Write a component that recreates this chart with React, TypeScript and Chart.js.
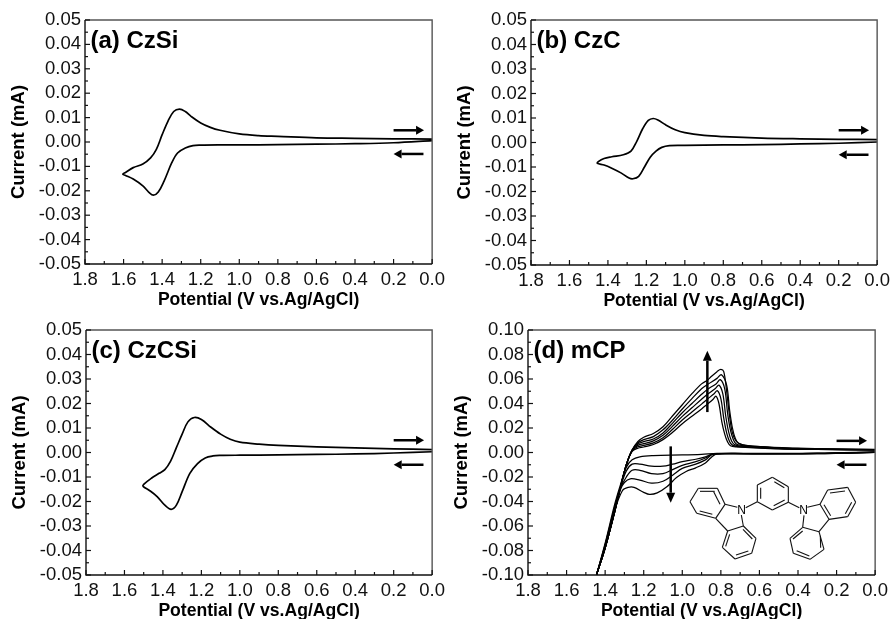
import React, { useEffect, useRef } from "react";
import { Chart, registerables } from "chart.js";

Chart.register(...registerables);

type P = [number, number];

const xTickValues = [1.8, 1.6, 1.4, 1.2, 1.0, 0.8, 0.6, 0.4, 0.2, 0.0];

const czSiLoop: P[] = [[0,.0012],[.2,.0013],[.4,.0015],[.6,.0017],[.8,.0023],[.9,.0026],[1,.0033],[1.1,.0048],[1.15,.006],[1.2,.0078],[1.25,.0105],[1.28,.0125],[1.31,.0135],[1.34,.0125],[1.37,.0085],[1.4,.003],[1.43,-.003],[1.46,-.0065],[1.5,-.009],[1.55,-.0105],[1.59,-.0125],[1.604,-.0132],[1.59,-.0137],[1.55,-.0152],[1.5,-.018],[1.47,-.0205],[1.445,-.0218],[1.42,-.0205],[1.39,-.016],[1.35,-.0085],[1.32,-.0045],[1.28,-.0025],[1.24,-.0015],[1.2,-.0013],[1.1,-.0012],[1,-.0012],[.8,-.0011],[.6,-.0009],[.4,-.0007],[.2,-.0003],[0,.0006]];

const czCLoop: P[] = [[0,.0012],[.2,.0013],[.4,.0015],[.6,.0018],[.8,.0024],[.9,.0029],[1,.004],[1.05,.0052],[1.1,.0072],[1.14,.0092],[1.165,.0098],[1.19,.009],[1.22,.0055],[1.25,.0005],[1.28,-.0035],[1.32,-.005],[1.38,-.0058],[1.42,-.0065],[1.45,-.0078],[1.455,-.0085],[1.42,-.0092],[1.38,-.0105],[1.33,-.0125],[1.29,-.0145],[1.27,-.0148],[1.24,-.0138],[1.21,-.01],[1.18,-.006],[1.15,-.0035],[1.12,-.002],[1.08,-.0013],[1,-.0012],[.8,-.001],[.6,-.0009],[.4,-.0006],[.2,-.0003],[0,.0002]];

const czCSiLoop: P[] = [[0,.0012],[.2,.0015],[.4,.0019],[.6,.0023],[.8,.0029],[.9,.0034],[1,.0042],[1.05,.0054],[1.1,.0075],[1.15,.0103],[1.2,.0135],[1.237,.0143],[1.27,.0125],[1.3,.0075],[1.33,.002],[1.36,-.0035],[1.39,-.007],[1.42,-.0085],[1.46,-.0105],[1.5,-.013],[1.503,-.0138],[1.47,-.0155],[1.43,-.018],[1.39,-.0215],[1.357,-.0232],[1.33,-.0215],[1.3,-.016],[1.26,-.0085],[1.22,-.0045],[1.18,-.0022],[1.14,-.0014],[1.1,-.0012],[1,-.0011],[.8,-.001],[.6,-.0008],[.4,-.0006],[.2,-.0002],[0,.0003]];

const mcpForward0: P[] = [[0,.002],[.3,.0025],[.5,.003],[.65,.004],[.72,.0045],[.75,.0055],[.765,.0085],[.78,.015],[.795,.025],[.81,.04],[.825,.046],[.84,.0435],[.87,.0395],[.9,.0355],[.95,.0295],[1,.0235],[1.05,.0165],[1.1,.0105],[1.15,.0065],[1.2,.0045],[1.23,.0035],[1.26,.001],[1.29,-.01],[1.32,-.028],[1.35,-.048],[1.4,-.078],[1.445,-.1]];
const mcpForward1: P[] = [[0,.0021],[.3,.0026],[.5,.0032],[.65,.0043],[.71,.0048],[.74,.006],[.755,.009],[.77,.016],[.785,.028],[.8,.044],[.818,.0505],[.835,.048],[.87,.0435],[.9,.0395],[.95,.033],[1,.0265],[1.05,.019],[1.1,.012],[1.15,.0078],[1.2,.0058],[1.23,.0047],[1.26,.0015],[1.29,-.01],[1.32,-.028],[1.35,-.048],[1.4,-.078],[1.445,-.1]];
const mcpForward2: P[] = [[0,.0022],[.3,.0027],[.5,.0034],[.65,.0046],[.70,.0052],[.73,.0065],[.745,.0095],[.76,.017],[.775,.03],[.79,.048],[.81,.055],[.83,.052],[.87,.0475],[.9,.0435],[.95,.0365],[1,.0295],[1.05,.0215],[1.1,.014],[1.15,.0095],[1.2,.0072],[1.23,.0058],[1.26,.0018],[1.29,-.01],[1.32,-.028],[1.35,-.048],[1.4,-.078],[1.445,-.1]];
const mcpForward3: P[] = [[0,.0023],[.3,.0029],[.5,.0036],[.65,.005],[.69,.0056],[.72,.007],[.735,.0105],[.75,.018],[.765,.032],[.78,.052],[.803,.0595],[.825,.056],[.87,.0515],[.9,.0475],[.95,.04],[1,.0325],[1.05,.024],[1.1,.016],[1.15,.011],[1.2,.0088],[1.23,.007],[1.26,.002],[1.29,-.01],[1.32,-.028],[1.35,-.048],[1.4,-.078],[1.445,-.1]];
const mcpForward4: P[] = [[0,.0024],[.3,.003],[.5,.0038],[.65,.0055],[.68,.006],[.71,.0078],[.725,.0115],[.74,.02],[.755,.035],[.77,.055],[.797,.0635],[.82,.0605],[.87,.0555],[.9,.052],[.95,.044],[1,.0355],[1.05,.0265],[1.1,.0185],[1.15,.013],[1.2,.0105],[1.23,.008],[1.26,.002],[1.29,-.01],[1.32,-.028],[1.35,-.048],[1.4,-.078],[1.445,-.1]];
const mcpForward5: P[] = [[0,.0025],[.2,.0028],[.4,.0035],[.6,.0048],[.69,.0065],[.72,.009],[.74,.016],[.755,.03],[.77,.05],[.785,.066],[.8,.0678],[.82,.066],[.85,.062],[.87,.059],[.9,.056],[.95,.048],[1,.039],[1.05,.03],[1.1,.021],[1.15,.0155],[1.2,.0125],[1.23,.009],[1.26,.002],[1.29,-.01],[1.32,-.028],[1.35,-.048],[1.4,-.078],[1.445,-.1]];

const mcpReverse0: P[] = [[1.445,-.1],[1.4,-.074],[1.35,-.042],[1.32,-.026],[1.29,-.012],[1.26,-.006],[1.22,-.0035],[1.15,-.0025],[1,-.002],[.9,-.0015],[.82,-.0008],[.6,-.0008],[.3,-.0006],[0,.0005]];
const mcpReverse1: P[] = [[1.445,-.1],[1.4,-.075],[1.35,-.044],[1.32,-.028],[1.29,-.015],[1.26,-.0095],[1.22,-.0095],[1.16,-.0112],[1.1,-.0112],[1.05,-.0095],[1,-.0075],[.93,-.0055],[.88,-.0035],[.84,-.0012],[.6,-.0009],[.3,-.0007],[0,.0004]];
const mcpReverse2: P[] = [[1.445,-.1],[1.4,-.076],[1.35,-.045],[1.32,-.029],[1.29,-.02],[1.26,-.0145],[1.22,-.0145],[1.16,-.0172],[1.1,-.0172],[1.05,-.014],[1,-.0105],[.93,-.0075],[.88,-.0045],[.84,-.0012],[.6,-.001],[.3,-.0008],[0,.0003]];
const mcpReverse3: P[] = [[1.445,-.1],[1.4,-.076],[1.35,-.046],[1.32,-.03],[1.3,-.0245],[1.27,-.0215],[1.22,-.0225],[1.16,-.025],[1.1,-.0235],[1.05,-.0185],[1,-.013],[.93,-.0095],[.88,-.006],[.84,-.0015],[.6,-.0011],[.3,-.0009],[0,.0002]];
const mcpReverse4: P[] = [[1.445,-.1],[1.4,-.076],[1.35,-.047],[1.31,-.031],[1.28,-.0285],[1.25,-.0285],[1.2,-.0325],[1.17,-.0342],[1.13,-.033],[1.08,-.028],[1.03,-.0205],[.98,-.0155],[.93,-.0125],[.88,-.0085],[.85,-.004],[.82,-.0012],[.7,-.0012],[.4,-.001],[.2,-.0008],[0,.0001]];

// arrows: [fromX, fromY, toX, toY] in data units
const arrowsA = [[.2,.0048,.042,.0048],[.045,-.0049,.2,-.0049]];
const arrowsB = [[.2,.0050,.042,.0050],[.045,-.0050,.2,-.0050]];
const arrowsC = [[.2,.005,.042,.005],[.045,-.005,.2,-.005]];
const arrowsD = [[.2,.0095,.042,.0095],[.045,-.0100,.2,-.0100],[.87,.033,.87,.083],[1.06,.005,1.06,-.041]];

// mCP structure drawing, as line segments in a 3x grid measured from (680,470)
const ringLines: number[][] = [
  [277,22,325,50],[325,50,325,97],[325,97,277,120],[277,120,232,95],[232,95,232,45],[232,45,277,22],
  [283,35,313,53],[314,90,281,107],[242,86,242,53],
  [232,95,197,113],[325,97,358,113],
  [172,112,135,103],[135,103,112,55],[112,55,55,55],[55,55,30,95],[30,95,50,130],[50,130,107,145],[107,145,135,103],
  [104,64,60,64],[120,103,101,65],[59,123,97,133],
  [107,145,143,183],[143,183,190,168],[190,168,184,135],
  [143,183,127,232],[127,232,165,267],[165,267,215,250],[215,250,228,205],[228,205,190,168],
  [149,193,137,229],[168,255,205,243],[217,207,189,178],
  [382,112,420,103],[420,103,443,60],[443,60,503,52],[503,52,527,97],[527,97,503,140],[503,140,447,148],[447,148,420,103],
  [450,69,495,63],[515,97,496,131],[452,137,432,104],
  [447,148,417,185],[417,185,368,172],[368,172,372,136],
  [417,185,432,238],[432,238,390,268],[390,268,340,250],[340,250,330,205],[330,205,368,172],
  [421,197,422,233],[388,258,350,242],[339,207,368,183],
];

const panels = [
  { label: "(a) CzSi", left: 84.5, top: 19.5, right: 435.5, bottom: 264, yMax: 0.05, yDigitsStep: 0.005, lineWidth: 1.7, curves: [czSiLoop], arrows: arrowsA, molecule: false },
  { label: "(b) CzC", left: 530.5, top: 20, right: 881, bottom: 265, yMax: 0.05, yDigitsStep: 0.005, lineWidth: 1.7, curves: [czCLoop], arrows: arrowsB, molecule: false },
  { label: "(c) CzCSi", left: 85.5, top: 330, right: 436, bottom: 575, yMax: 0.05, yDigitsStep: 0.005, lineWidth: 1.7, curves: [czCSiLoop], arrows: arrowsC, molecule: false },
  { label: "(d) mCP", left: 528, top: 330, right: 879, bottom: 575, yMax: 0.1, yDigitsStep: 0.01, lineWidth: 1.25, curves: [mcpForward0, mcpForward1, mcpForward2, mcpForward3, mcpForward4, mcpForward5, mcpReverse0, mcpReverse1, mcpReverse2, mcpReverse3, mcpReverse4], arrows: arrowsD, molecule: true },
];

const PAD_LEFT = 85, PAD_TOP = 20, PAD_RIGHT = 14, PAD_BOTTOM = 47;
const FONT = "'Liberation Sans', Arial, sans-serif";

function framePlugin(p: (typeof panels)[number]) {
  return {
    id: "frame",
    afterDatasetsDraw(chart: any) {
      const { ctx, chartArea: a, scales } = chart;
      const { x, y } = scales;
      ctx.save();
      ctx.strokeStyle = "#555";
      ctx.lineWidth = 1.4;
      ctx.beginPath();
      ctx.moveTo(a.left, a.top); ctx.lineTo(a.right, a.top); ctx.lineTo(a.right, a.bottom);
      ctx.stroke();
      ctx.strokeStyle = "#111";
      ctx.beginPath();
      ctx.moveTo(a.left, a.top); ctx.lineTo(a.left, a.bottom); ctx.lineTo(a.right, a.bottom);
      ctx.stroke();
      ctx.lineWidth = 1.2;
      x.ticks.forEach((t: any, i: number) => {
        const px = x.getPixelForValue(t.value);
        ctx.beginPath(); ctx.moveTo(px, a.bottom); ctx.lineTo(px, a.bottom - (i % 2 === 0 ? 5 : 3)); ctx.stroke();
      });
      y.ticks.forEach((t: any, i: number) => {
        const py = y.getPixelForValue(t.value);
        ctx.beginPath(); ctx.moveTo(a.left, py); ctx.lineTo(a.left + (i % 2 === 0 ? 5 : 3), py); ctx.stroke();
      });
      ctx.strokeStyle = "#000"; ctx.fillStyle = "#000";
      p.arrows.forEach(([fx, fy, tx, ty]) => {
        const x0 = x.getPixelForValue(fx), y0 = y.getPixelForValue(fy);
        const x1 = x.getPixelForValue(tx), y1 = y.getPixelForValue(ty);
        const ang = Math.atan2(y1 - y0, x1 - x0);
        const vertical = Math.abs(y1 - y0) > Math.abs(x1 - x0);
        const len = vertical ? 10 : 8, half = 4.5;
        ctx.lineWidth = 2.5;
        const bx = x1 - Math.cos(ang) * len, by = y1 - Math.sin(ang) * len;
        ctx.beginPath(); ctx.moveTo(x0, y0); ctx.lineTo(bx, by); ctx.stroke();
        ctx.beginPath();
        ctx.moveTo(x1, y1);
        ctx.lineTo(bx - Math.sin(ang) * half, by + Math.cos(ang) * half);
        ctx.lineTo(bx + Math.sin(ang) * half, by - Math.cos(ang) * half);
        ctx.closePath(); ctx.fill();
      });
      ctx.font = `bold 24px ${FONT}`;
      ctx.textAlign = "left"; ctx.textBaseline = "alphabetic";
      ctx.fillText(p.label, a.left + 5.5, a.top + 27.5);
      if (p.molecule) {
        const ox = 680 - p.left + a.left, oy = 470 - p.top + a.top;
        ctx.strokeStyle = "#111"; ctx.lineWidth = 1.1;
        ringLines.forEach(([a1, b1, a2, b2]) => {
          ctx.beginPath();
          ctx.moveTo(ox + a1 / 3, oy + b1 / 3); ctx.lineTo(ox + a2 / 3, oy + b2 / 3);
          ctx.stroke();
        });
        ctx.font = `12px ${FONT}`;
        ctx.textAlign = "center"; ctx.textBaseline = "middle";
        ctx.fillText("N", ox + 185 / 3, oy + 121 / 3);
        ctx.fillText("N", ox + 371 / 3, oy + 123 / 3);
      }
      ctx.restore();
    },
  };
}

function Panel({ p }: { p: (typeof panels)[number] }) {
  const ref = useRef<HTMLCanvasElement>(null);
  useEffect(() => {
    const chart = new Chart(ref.current!, {
      type: "line",
      data: {
        datasets: p.curves.map((c) => ({
          data: c.map(([x, y]) => ({ x, y })),
          borderColor: "#000",
          borderWidth: p.lineWidth,
          pointRadius: 0,
          tension: 0.35,
          fill: false,
        })),
      },
      options: {
        animation: false,
        responsive: false,
        events: [],
        layout: { padding: { left: 0, top: PAD_TOP, right: PAD_RIGHT, bottom: 0 } },
        plugins: { legend: { display: false }, tooltip: { enabled: false }, title: { display: false } },
        scales: {
          x: {
            type: "linear",
            reverse: true,
            min: 0,
            max: 1.8,
            afterBuildTicks(s: any) {
              const out: any[] = [];
              xTickValues.forEach((v, i) => {
                out.push({ value: v });
                if (i < xTickValues.length - 1) out.push({ value: (v * 10 - 1) / 10 });
              });
              s.ticks = out;
            },
            afterFit(s: any) { s.height = PAD_BOTTOM; },
            grid: { display: false, drawTicks: false },
            border: { display: false },
            ticks: {
              autoSkip: false,
              maxRotation: 0,
              padding: 5,
              color: "#111",
              font: { family: FONT, size: 18.5 },
              callback(v: any, i: number) { return i % 2 === 0 ? Number(v).toFixed(1) : ""; },
            },
            title: {
              display: true,
              text: "Potential (V vs.Ag/AgCl)",
              color: "#000",
              font: { family: FONT, size: 17.6, weight: "bold" },
              padding: { top: 0, bottom: 0 },
            },
          },
          y: {
            type: "linear",
            min: -p.yMax,
            max: p.yMax,
            afterBuildTicks(s: any) {
              const n = Math.round((2 * p.yMax) / p.yDigitsStep);
              const out: any[] = [];
              for (let i = 0; i <= n; i++) out.push({ value: Number((-p.yMax + i * p.yDigitsStep).toFixed(4)) });
              s.ticks = out;
            },
            afterFit(s: any) { s.width = PAD_LEFT; },
            grid: { display: false, drawTicks: false },
            border: { display: false },
            ticks: {
              autoSkip: false,
              padding: 4,
              color: "#111",
              font: { family: FONT, size: 18.5 },
              callback(v: any, i: number) { return i % 2 === 0 ? Number(v).toFixed(2) : ""; },
            },
            title: {
              display: true,
              text: "Current (mA)",
              color: "#000",
              font: { family: FONT, size: 18.5, weight: "bold" },
              padding: { top: 8, bottom: 0 },
            },
          },
        },
      } as any,
      plugins: [framePlugin(p)],
    } as any);
    return () => chart.destroy();
  }, [p]);
  const w = p.right - p.left + PAD_LEFT + PAD_RIGHT;
  const h = p.bottom - p.top + PAD_TOP + PAD_BOTTOM;
  return (
    <canvas
      ref={ref}
      width={Math.round(w * 2) / 2}
      height={Math.round(h * 2) / 2}
      style={{ position: "absolute", left: p.left - PAD_LEFT, top: p.top - PAD_TOP, display: "block", filter: "blur(0.35px)" }}
    />
  );
}

export default function App() {
  return (
    <div style={{ position: "absolute", left: 0, top: 0, width: 895, height: 619, overflow: "hidden", background: "#fff" }}>
      {panels.map((p) => (
        <Panel key={p.label} p={p} />
      ))}
    </div>
  );
}
